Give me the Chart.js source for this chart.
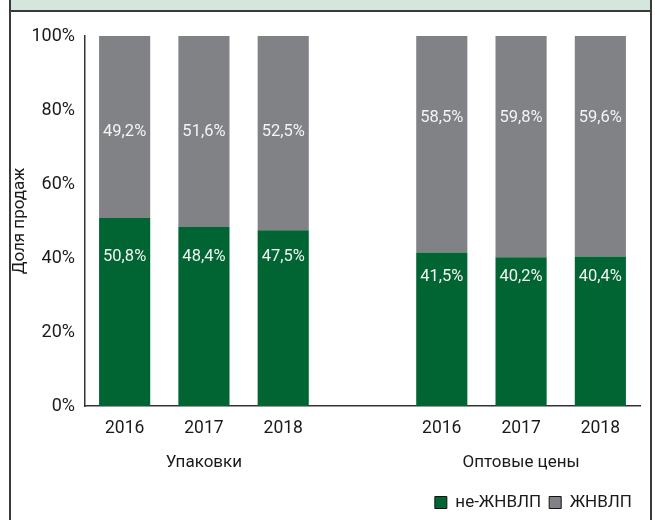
<!DOCTYPE html>
<html>
<head>
<meta charset="utf-8">
<script src="https://cdn.jsdelivr.net/npm/chart.js@4.4.1/dist/chart.umd.min.js"></script>
<style>
    html, body { margin: 0; padding: 0; background: #fff; }
    body { width: 655px; height: 520px; position: relative; overflow: hidden; }
    .frame { position: absolute; left: 9px; top: 0; width: 639px; height: 530px;
             border-left: 2px solid #3a3a3a; border-right: 2px solid #3a3a3a; }
    .band { position: absolute; left: 0; top: 0; right: 0; height: 10px;
            background: #d5e6dc; border-bottom: 2px solid #3a3a3a; }
    #chart { position: absolute; left: 0; top: 0; }
</style>
</head>
<body>
<div class="frame"><div class="band"></div></div>
<canvas id="chart" width="655" height="520"></canvas>
<script>
// Доли продаж: не-ЖНВЛП / ЖНВЛП, по упаковкам и по оптовым ценам
const years = ['2016', '2017', '2018', '', '2016', '2017', '2018'];
const groups = ['', 'Упаковки', '', '', '', 'Оптовые цены', ''];
const nonVed = [50.8, 48.4, 47.5, null, 41.5, 40.2, 40.4];
const ved = [49.2, 51.6, 52.5, null, 58.5, 59.8, 59.6];
const yTicks = [0, 20, 40, 60, 80, 100];

// где стоят подписи значений (в единицах оси Y)
const nonVedLabelAt = [40.4, 40.4, 40.4, null, 34.8, 34.8, 34.8];
const vedLabelAt = [74.2, 74.2, 74.2, null, 77.9, 77.9, 77.9];

const FONT = 'Roboto, "Open Sans", sans-serif';
const GREEN = '#006532';
const GREY = '#818286';

const fmt = (v) => v.toFixed(1).replace('.', ',') + '%';

// Подписи значений внутри столбцов
const valueLabels = {
    id: 'valueLabels',
    afterDatasetsDraw(chart) {
        const ctx = chart.ctx;
        const yScale = chart.scales.y;
        const spots = [nonVedLabelAt, vedLabelAt];
        ctx.save();
        ctx.font = '16.5px ' + FONT;
        ctx.fillStyle = '#f4f4f4';
        ctx.textAlign = 'center';
        ctx.textBaseline = 'middle';
        chart.data.datasets.forEach((ds, i) => {
            chart.getDatasetMeta(i).data.forEach((bar, j) => {
                const v = ds.data[j];
                if (v == null) return;
                ctx.fillText(fmt(v), bar.x, yScale.getPixelForValue(spots[i][j]));
            });
        });
        ctx.restore();
    }
};

new Chart(document.getElementById('chart'), {
    type: 'bar',
    data: {
        labels: years,
        datasets: [
            { label: 'не-ЖНВЛП', data: nonVed, backgroundColor: GREEN,
              barPercentage: 0.645, categoryPercentage: 1 },
            { label: 'ЖНВЛП', data: ved, backgroundColor: GREY,
              barPercentage: 0.645, categoryPercentage: 1 }
        ]
    },
    options: {
        responsive: false,
        animation: false,
        layout: { padding: { left: 10, right: 15, top: 36, bottom: -1 } },
        scales: {
            x: {
                stacked: true,
                afterFit: (scale) => { scale.height = 34; },
                grid: { display: false, drawTicks: false },
                border: { display: true, color: '#333', width: 1.5 },
                ticks: { color: '#1a1a1a', font: { family: FONT, size: 17.5 }, padding: 12, maxRotation: 0 }
            },
            x2: {
                type: 'category',
                labels: groups,
                position: 'bottom',
                afterFit: (scale) => { scale.height = 46; },
                grid: { display: false, drawTicks: false },
                border: { display: false },
                ticks: { color: '#1a1a1a', font: { family: FONT, size: 17 }, padding: 13,
                         autoSkip: false, maxRotation: 0 }
            },
            y: {
                stacked: true,
                min: 0,
                max: 100,
                afterBuildTicks: (scale) => { scale.ticks = yTicks.map(v => ({ value: v })); },
                afterFit: (scale) => { scale.width = 75; },
                grid: { display: false, drawTicks: false },
                border: { display: true, color: '#333', width: 1.5 },
                ticks: { color: '#1a1a1a', font: { family: FONT, size: 18 }, padding: 10,
                         callback: (v) => v + '%' },
                title: { display: true, text: 'Доля продаж', color: '#1a1a1a',
                         font: { family: FONT, size: 17 }, padding: 0 }
            }
        },
        plugins: {
            legend: {
                position: 'bottom',
                align: 'end',
                labels: {
                    color: '#1a1a1a',
                    font: { family: FONT, size: 17 },
                    boxWidth: 12,
                    boxHeight: 12,
                    padding: 8,
                    generateLabels: (chart) => chart.data.datasets.map((ds, i) => ({
                        text: ds.label,
                        fillStyle: ds.backgroundColor,
                        strokeStyle: '#111',
                        lineWidth: 1,
                        fontColor: '#1a1a1a',
                        datasetIndex: i
                    }))
                }
            },
            tooltip: { enabled: false }
        }
    },
    plugins: [valueLabels]
});
</script>
</body>
</html>
